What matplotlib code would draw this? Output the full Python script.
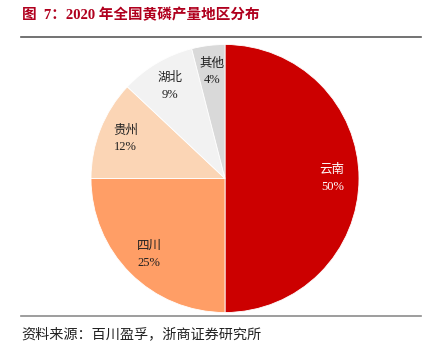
import matplotlib.pyplot as plt

plt.rcParams['font.family'] = ['Liberation Serif', 'Noto Sans CJK SC']

# data
regions = ["云南", "四川", "贵州", "湖北", "其他"]
shares = [50, 25, 12, 9, 4]
colors = ["#CC0000", "#FF9E66", "#FBD5B5", "#F2F2F2", "#D9D9D9"]
text_colors = ["white", "#222222", "#222222", "#222222", "#222222"]

fig = plt.figure(figsize=(4.34, 3.57), dpi=100)

# pie
ax = fig.add_axes([91 / 434, (357 - 312.5) / 357, 268 / 434, 268 / 357])
wedges, texts, autotexts = ax.pie(
    shares, colors=colors, startangle=90, counterclock=False,
    autopct="%d%%", pctdistance=0.8,
    wedgeprops=dict(edgecolor="white", linewidth=0.6),
    textprops=dict(fontsize=9))
for i, t in enumerate(autotexts):
    t.set_text(regions[i] + "\n" + t.get_text())
    t.set_color(text_colors[i])
    t.set_linespacing(1.5)
ax.set_xlim(-1, 1)
ax.set_ylim(-1, 1)
ax.set_aspect("equal")

# title
fig.text(22 / 434, 1 - 15 / 357, "图  7：2020 年全国黄磷产量地区分布",
         fontsize=10.5, fontweight="bold", color="#B0001E", va="center")
fig.add_artist(plt.Line2D([21 / 434, 421 / 434], [1 - 37 / 357] * 2,
                          color="#5A5A5A", linewidth=1.2))

# source
fig.add_artist(plt.Line2D([21 / 434, 421 / 434], [1 - 315.5 / 357] * 2,
                          color="#8C8C8C", linewidth=1.2))
fig.text(21 / 434, 1 - 334 / 357, "资料来源：百川盈孚，浙商证券研究所",
         fontsize=10.2, color="#222222", va="center")

fig.savefig("out.png", dpi=100)
